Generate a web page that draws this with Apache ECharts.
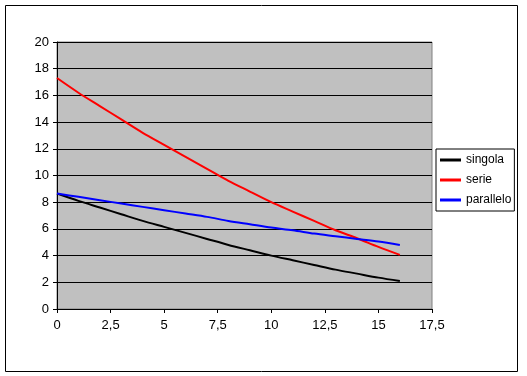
<!DOCTYPE html>
<html lang="it">
<head>
    <meta charset="UTF-8">
    <title>singola serie parallelo</title>
    <style>
        html, body { margin: 0; padding: 0; background: #fff; }
        #chart { width: 527px; height: 376px; }
    </style>
    <script src="https://cdn.jsdelivr.net/npm/echarts@6/dist/echarts.min.js"></script>
</head>
<body>
    <div id="chart"></div>
    <script>
        var xValues = [0, 1, 2, 3, 4, 5, 6, 7, 8, 9, 10, 11, 12, 13, 14, 15, 16];
        var singola = [8.65, 8.1, 7.6, 7.1, 6.6, 6.15, 5.7, 5.25, 4.8, 4.4, 4.0, 3.65, 3.3, 2.95, 2.65, 2.35, 2.1];
        var serie = [17.3, 16.2, 15.2, 14.2, 13.2, 12.3, 11.4, 10.5, 9.6, 8.8, 8.0, 7.3, 6.6, 5.9, 5.3, 4.65, 4.05];
        var parallelo = [8.65, 8.4, 8.15, 7.9, 7.65, 7.4, 7.15, 6.9, 6.6, 6.35, 6.1, 5.9, 5.65, 5.45, 5.25, 5.05, 4.8];
        var seriesNames = ['singola', 'serie', 'parallelo'];
        var seriesColors = ['#000000', '#ff0000', '#0000ff'];

        function pairs(ys) {
            return xValues.map(function (x, i) { return [x, ys[i]]; });
        }

        var myChart = echarts.init(document.getElementById('chart'));
        var font = 'Liberation Sans, Arial, sans-serif';

        var option = {
            animation: false,
            backgroundColor: '#ffffff',
            textStyle: { fontFamily: font },
            // outer frame around the whole chart
            graphic: [{
                type: 'rect',
                shape: { x: 5.5, y: 5.5, width: 512, height: 366 },
                style: { fill: 'none', stroke: '#000', lineWidth: 1 },
                silent: true
            }],
            grid: {
                left: 57, top: 42, width: 375, height: 267,
                show: true,
                backgroundColor: '#c0c0c0',
                borderColor: '#808080',
                borderWidth: 1
            },
            legend: {
                orient: 'vertical',
                left: 436, top: 149,
                padding: [5, 3, 5, 4],
                itemGap: 8,
                itemWidth: 21,
                itemHeight: 3,
                icon: 'rect',
                borderColor: '#000',
                borderWidth: 1,
                backgroundColor: '#fff',
                data: seriesNames,
                textStyle: { fontFamily: font, fontSize: 12, color: '#000' }
            },
            xAxis: {
                type: 'value',
                min: 0, max: 17.5, interval: 2.5,
                axisLine: { lineStyle: { color: '#000' } },
                axisTick: { show: true, length: 4, lineStyle: { color: '#000' } },
                splitLine: { show: false },
                axisLabel: {
                    color: '#000', fontSize: 13, margin: 10,
                    formatter: function (v) { return String(v).replace('.', ','); }
                }
            },
            yAxis: {
                type: 'value',
                min: 0, max: 20, interval: 2,
                axisLine: { show: true, lineStyle: { color: '#000' } },
                axisTick: { show: true, length: 4, lineStyle: { color: '#000' } },
                splitLine: { lineStyle: { color: '#000', width: 1 } },
                axisLabel: { color: '#000', fontSize: 13, margin: 8 }
            },
            series: [singola, serie, parallelo].map(function (ys, i) {
                return {
                    name: seriesNames[i],
                    type: 'line',
                    data: pairs(ys),
                    showSymbol: false,
                    smooth: 0.3,
                    itemStyle: { color: seriesColors[i] },
                    lineStyle: { color: seriesColors[i], width: 2 }
                };
            })
        };
        myChart.setOption(option);
    </script>
</body>
</html>
